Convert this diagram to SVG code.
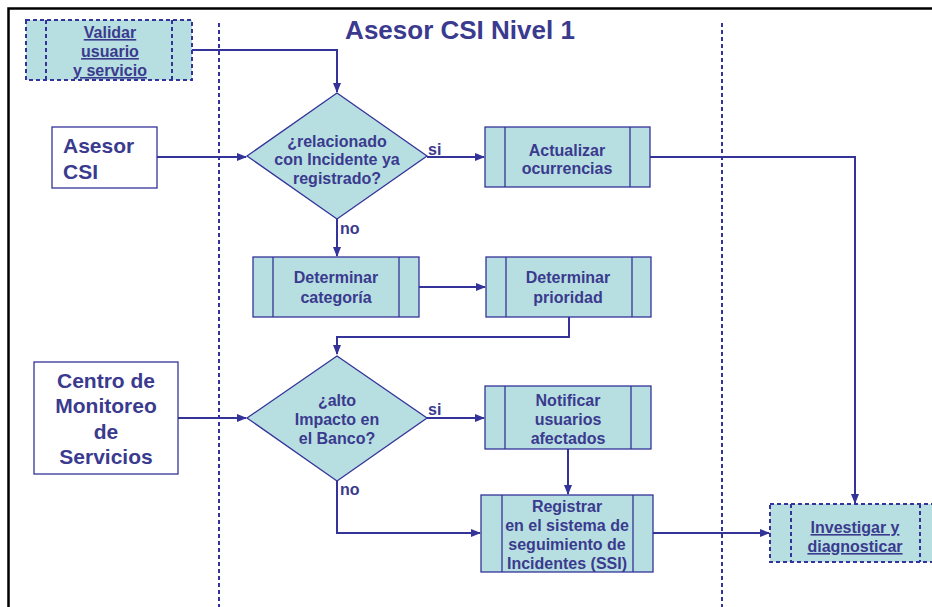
<svg xmlns="http://www.w3.org/2000/svg" width="932" height="607" viewBox="0 0 932 607">
<defs>
<marker id="ah" markerWidth="10" markerHeight="10" refX="9" refY="5" orient="auto" markerUnits="userSpaceOnUse">
<path d="M0,1 L10,5 L0,9 Z" fill="#333399"/>
</marker>
<style>
.box{fill:#B7DFE1;stroke:#333399;stroke-width:1.3}
.dbox{fill:#B7DFE1;stroke:#333399;stroke-width:2;stroke-dasharray:4 3}
.dl{stroke:#333399;stroke-width:2;stroke-dasharray:4 3;fill:none}
.il{stroke:#333399;stroke-width:1.3}
.wbox{fill:#fff;stroke:#333399;stroke-width:1.3}
.t{font-family:"Liberation Sans",Arial,sans-serif;font-weight:bold;font-size:16px;fill:#3A3A8E;text-anchor:middle}
.tl{font-family:"Liberation Sans",Arial,sans-serif;font-weight:bold;font-size:21px;fill:#3A3A8E}
.u{text-decoration:underline}
.c{stroke:#333399;stroke-width:2;fill:none}
.lane{stroke:#333399;stroke-width:2;stroke-dasharray:4 3}
</style>
</defs>
<rect x="0" y="0" width="932" height="607" fill="#fff"/>
<path d="M8.5,620 V8.5 H945" stroke="#000" stroke-width="2.5" fill="none"/>
<text x="460" y="39" class="tl" style="font-size:26px;text-anchor:middle">Asesor CSI Nivel 1</text>
<g id="lanes">
<line x1="219" y1="23" x2="219" y2="607" class="lane"/>
<line x1="722" y1="23" x2="722" y2="607" class="lane"/>
</g>
<g id="connectors">
<path d="M192,50 H337 V92" class="c" marker-end="url(#ah)"/>
<path d="M157,157 H246" class="c" marker-end="url(#ah)"/>
<path d="M427,157 H484" class="c" marker-end="url(#ah)"/>
<path d="M650,157 H855 V503" class="c" marker-end="url(#ah)"/>
<path d="M337,219 V256" class="c" marker-end="url(#ah)"/>
<path d="M419,287 H485" class="c" marker-end="url(#ah)"/>
<path d="M569,317 V337 H337 V354" class="c" marker-end="url(#ah)"/>
<path d="M178,418 H246" class="c" marker-end="url(#ah)"/>
<path d="M426,418 H484" class="c" marker-end="url(#ah)"/>
<path d="M568,449 V494" class="c" marker-end="url(#ah)"/>
<path d="M337,480 V533 H480" class="c" marker-end="url(#ah)"/>
<path d="M653,533 H769" class="c" marker-end="url(#ah)"/>
<text x="428" y="155" class="t" style="text-anchor:start">si</text>
<text x="340" y="234" class="t" style="text-anchor:start">no</text>
<text x="428" y="415" class="t" style="text-anchor:start">si</text>
<text x="340" y="495" class="t" style="text-anchor:start">no</text>
</g>
<g id="validar">
<rect x="26" y="20" width="166" height="60" class="dbox"/>
<line x1="46" y1="20" x2="46" y2="80" class="dl"/>
<line x1="172" y1="20" x2="172" y2="80" class="dl"/>
<text x="110" y="38" class="t u">Validar</text>
<text x="110" y="57" class="t u">usuario</text>
<text x="110" y="76" class="t u">y servicio</text>
</g>
<g id="asesor">
<rect x="52" y="127" width="105" height="61" class="wbox"/>
<text x="63" y="153" class="tl">Asesor</text>
<text x="63" y="179" class="tl">CSI</text>
</g>
<g id="d1">
<polygon points="337,93 427,156 337,219 247,156" class="box"/>
<text x="337" y="147" class="t">¿relacionado</text>
<text x="337" y="165" class="t">con Incidente ya</text>
<text x="337" y="184" class="t">registrado?</text>
</g>
<g id="actualizar">
<rect x="485" y="127" width="165" height="60" class="box"/>
<line x1="505" y1="127" x2="505" y2="187" class="il"/>
<line x1="630" y1="127" x2="630" y2="187" class="il"/>
<text x="567" y="156" class="t">Actualizar</text>
<text x="567" y="174" class="t">ocurrencias</text>
</g>
<g id="categoria">
<rect x="253" y="257" width="166" height="60" class="box"/>
<line x1="273" y1="257" x2="273" y2="317" class="il"/>
<line x1="399" y1="257" x2="399" y2="317" class="il"/>
<text x="336" y="283" class="t">Determinar</text>
<text x="336" y="303" class="t">categoría</text>
</g>
<g id="prioridad">
<rect x="486" y="257" width="165" height="60" class="box"/>
<line x1="506" y1="257" x2="506" y2="317" class="il"/>
<line x1="632" y1="257" x2="632" y2="317" class="il"/>
<text x="568" y="283" class="t">Determinar</text>
<text x="568" y="303" class="t">prioridad</text>
</g>
<g id="centro">
<rect x="34" y="362" width="144" height="112" class="wbox"/>
<text x="106" y="388" class="tl" style="text-anchor:middle">Centro de</text>
<text x="106" y="413" class="tl" style="text-anchor:middle">Monitoreo</text>
<text x="106" y="439" class="tl" style="text-anchor:middle">de</text>
<text x="106" y="464" class="tl" style="text-anchor:middle">Servicios</text>
</g>
<g id="d2">
<polygon points="337,356 427,418 337,481 247,418" class="box"/>
<text x="337" y="406" class="t">¿alto</text>
<text x="337" y="425" class="t">Impacto en</text>
<text x="337" y="444" class="t">el Banco?</text>
</g>
<g id="notificar">
<rect x="485" y="386" width="166" height="63" class="box"/>
<line x1="505" y1="386" x2="505" y2="449" class="il"/>
<line x1="631" y1="386" x2="631" y2="449" class="il"/>
<text x="568" y="406" class="t">Notificar</text>
<text x="568" y="425" class="t">usuarios</text>
<text x="568" y="444" class="t">afectados</text>
</g>
<g id="registrar">
<rect x="481" y="495" width="172" height="77" class="box"/>
<line x1="502" y1="495" x2="502" y2="572" class="il"/>
<line x1="633" y1="495" x2="633" y2="572" class="il"/>
<text x="567" y="512" class="t">Registrar</text>
<text x="567" y="531" class="t">en el sistema de</text>
<text x="567" y="550" class="t">seguimiento de</text>
<text x="567" y="569" class="t">Incidentes (SSI)</text>
</g>
<g id="investigar">
<rect x="770" y="504" width="172" height="58" class="dbox"/>
<line x1="791" y1="504" x2="791" y2="562" class="dl"/>
<line x1="920" y1="504" x2="920" y2="562" class="dl"/>
<text x="855" y="533" class="t u">Investigar y</text>
<text x="855" y="552" class="t u">diagnosticar</text>
</g>
</svg>
